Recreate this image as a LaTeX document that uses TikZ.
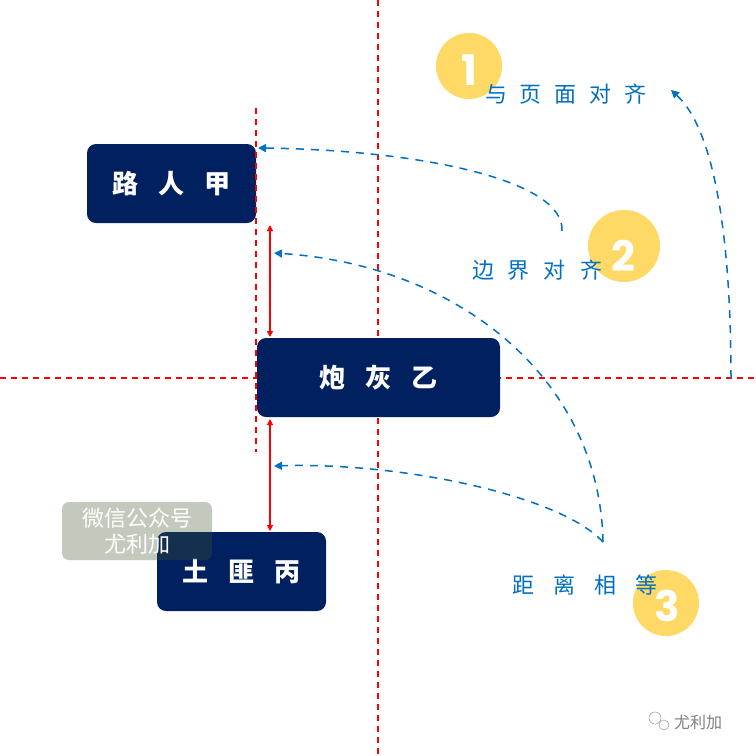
\documentclass[tikz,border=0pt]{standalone}
\usepackage{fontspec}
\newfontfamily\cjk{Noto Sans CJK SC}
\newfontfamily\numfont{Poppins}
\usetikzlibrary{arrows.meta}
\definecolor{navy}{HTML}{002060}
\definecolor{myblue}{HTML}{0070C0}
\definecolor{myyellow}{HTML}{FFD966}
\definecolor{wm}{HTML}{40552C}
\tikzset{
  box/.style={fill=navy,rounded corners=9pt,text=white,font=\cjk\fontsize{26}{30}\selectfont\bfseries,inner sep=0pt},
  reddash/.style={draw=red,line width=1.3pt,dash pattern=on 6pt off 5pt},
  redarrow/.style={draw=red,line width=1.3pt,{Triangle[length=6pt,width=6pt]}-{Triangle[length=6pt,width=6pt]}},
  bluedash/.style={draw=myblue,line width=1.5pt,dash pattern=on 8pt off 7pt,-{Triangle[length=8pt,width=8pt]}},
  lbl/.style={text=myblue,font=\cjk\fontsize{22}{26}\selectfont,inner sep=0pt},
  dot/.style={circle,fill=myyellow,inner sep=0pt},
  num/.style={text=white,font=\numfont\fontsize{42}{46}\selectfont\bfseries,inner sep=0pt}
}
\begin{document}
\begin{tikzpicture}[x=1pt,y=-1pt]
\useasboundingbox[fill=white] (0,0) rectangle (756,756);
% page centre lines
\coordinate (vt) at (378,0); \coordinate (vb) at (378,756);
\coordinate (hl) at (0,378); \coordinate (hr) at (756,378);
\draw[reddash] (vt) -- (vb);
\draw[reddash] (hl) -- (hr);
% boxes
\node[box,minimum width=169pt,minimum height=79pt] (jia) at (171.5,183.5) {路\hspace{20pt}人\hspace{20pt}甲};
\node[box,minimum width=243pt,minimum height=79pt] (yi) at (378.5,377.5) {炮\hspace{20pt}灰\hspace{20pt}乙};
\node[box,minimum width=169pt,minimum height=79pt] (bing) at (241.5,571.5) {土\hspace{20pt}匪\hspace{20pt}丙};
% edge alignment line
\coordinate (et) at (256,108); \coordinate (eb) at (256,452);
\draw[reddash] (et) -- (eb);
% distance arrows
\coordinate (a1) at (270,225); \coordinate (a2) at (270,337);
\coordinate (a3) at (270,419); \coordinate (a4) at (270,531);
\draw[redarrow] (a1) -- (a2);
\draw[redarrow] (a3) -- (a4);
% watermark box
\node[fill=wm,fill opacity=0.31,text opacity=1,rounded corners=7pt,minimum width=150pt,minimum height=58pt,inner sep=0pt,text=white,align=center,font=\cjk\fontsize{22}{26}\selectfont] (wmk) at (137,531) {微信公众号\\尤利加};
% circles
\node[dot,minimum size=66pt] (c1) at (469,66) {};
\node[dot,minimum size=72pt] (c2) at (624,246) {};
\node[dot,minimum size=66pt] (c3) at (666,603) {};
% labels
\node[lbl] (l1) at (566,94) {与\hspace{13pt}页\hspace{13pt}面\hspace{13pt}对\hspace{13pt}齐};
\node[lbl] (l2) at (537,270) {边\hspace{14pt}界\hspace{14pt}对\hspace{14pt}齐};
\node[lbl] (l3) at (585,585) {距\hspace{19pt}离\hspace{19pt}相\hspace{19pt}等};
% numbers
\node[num] (n1) at (469,70) {1};
\node[num] (n2) at (623,256) {2};
\node[num] (n3) at (667,606) {3};
% blue curves
\coordinate (s1) at (562,231); \coordinate (e1) at (258,148);
\draw[bluedash] (s1) .. controls (565,180) and (420,150) .. (e1);
\coordinate (s3) at (603,542); \coordinate (e2) at (274,253); \coordinate (e3) at (274,466);
\draw[bluedash] (s3) .. controls (600,380) and (460,265) .. (e2);
\draw[bluedash] (s3) .. controls (560,495) and (400,462) .. (e3);
\coordinate (s4) at (731,378); \coordinate (e4) at (671,90);
\draw[bluedash] (s4) .. controls (731,240) and (715,130) .. (e4);
% bottom-right mark
\node[text=gray,font=\cjk\fontsize{16}{18}\selectfont,inner sep=0pt,anchor=west] (mark) at (674,722) {尤利加};
\draw[gray!70,line width=0.6pt] (655,718) circle (6pt);
\draw[gray!70,line width=0.6pt,fill=white] (664,725) circle (5pt);
\end{tikzpicture}
\end{document}
